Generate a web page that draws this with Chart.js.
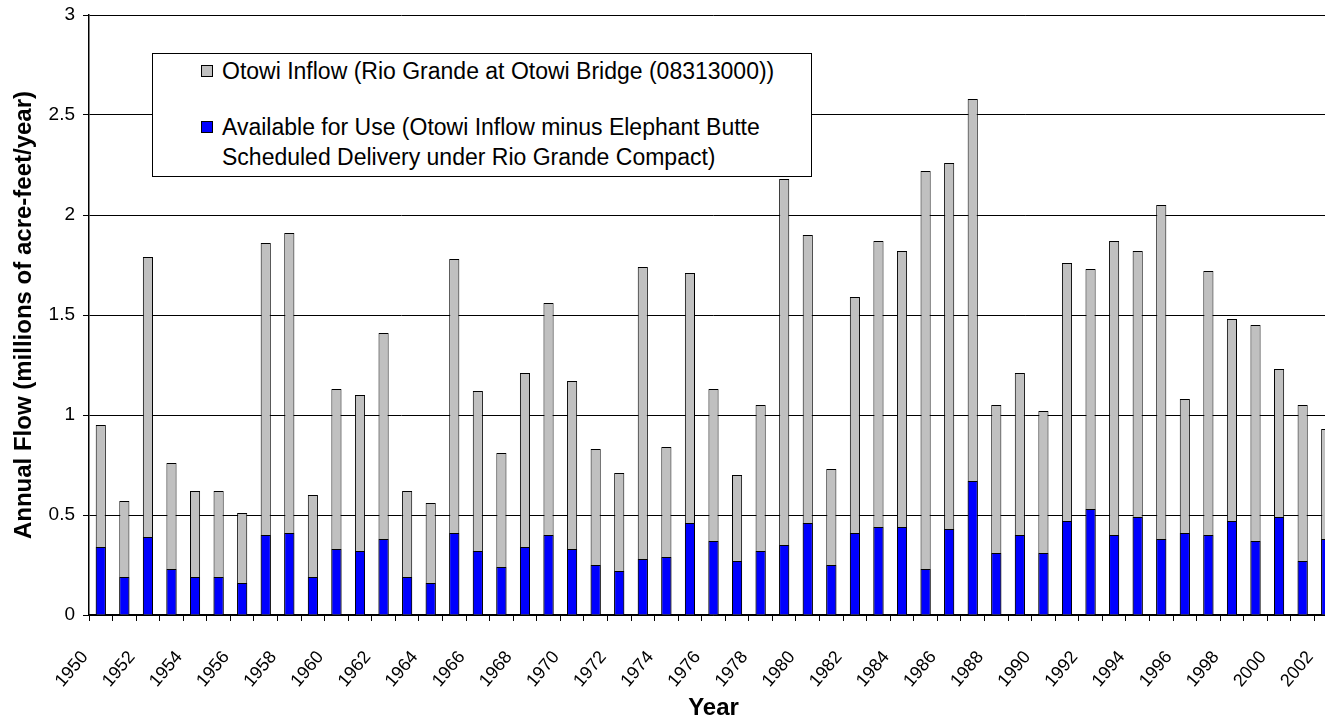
<!DOCTYPE html>
<html>
<head>
<meta charset="utf-8">
<title>Otowi Inflow and Water Available for Use</title>
<script src="https://cdn.jsdelivr.net/npm/chart.js@4.4.1/dist/chart.umd.min.js"></script>
<style>
	html, body { margin: 0; padding: 0; background: #fff; overflow: hidden; }
	#wrap { position: relative; width: 1325px; height: 718px; overflow: hidden; }
	#chart { position: absolute; left: 0; top: 0; }
	#legend {
		position: absolute; left: 152px; top: 53px; width: 658px; height: 122px;
		border: 1px solid #000; background: #fff;
		font-family: "Liberation Sans", Arial, sans-serif; font-size: 23px; color: #000;
	}
	.legend-item { position: absolute; left: 48px; display: flex; align-items: flex-start; }
	.legend-box { width: 10px; height: 10px; border: 1px solid #000; margin: 9px 9px 0 0; flex: none; }
	.legend-text { line-height: 30px; white-space: nowrap; }
</style>
</head>
<body>
<div id="wrap">
	<canvas id="chart" width="1340" height="718"></canvas>
	<div id="legend"></div>
</div>
<script>
const years = [
	1950, 1951, 1952, 1953, 1954, 1955, 1956, 1957, 1958, 1959,
	1960, 1961, 1962, 1963, 1964, 1965, 1966, 1967, 1968, 1969,
	1970, 1971, 1972, 1973, 1974, 1975, 1976, 1977, 1978, 1979,
	1980, 1981, 1982, 1983, 1984, 1985, 1986, 1987, 1988, 1989,
	1990, 1991, 1992, 1993, 1994, 1995, 1996, 1997, 1998, 1999,
	2000, 2001, 2002,
];
// millions of acre-feet/year
const otowiInflow = [
	0.95, 0.57, 1.79, 0.76, 0.62, 0.62, 0.51, 1.86, 1.91, 0.60,
	1.13, 1.10, 1.41, 0.62, 0.56, 1.78, 1.12, 0.81, 1.21, 1.56,
	1.17, 0.83, 0.71, 1.74, 0.84, 1.71, 1.13, 0.70, 1.05, 2.18,
	1.90, 0.73, 1.59, 1.87, 1.82, 2.22, 2.26, 2.58, 1.05, 1.21,
	1.02, 1.76, 1.73, 1.87, 1.82, 2.05, 1.08, 1.72, 1.48, 1.45,
	1.23, 1.05, 0.93,
];
const availableForUse = [
	0.34, 0.19, 0.39, 0.23, 0.19, 0.19, 0.16, 0.40, 0.41, 0.19,
	0.33, 0.32, 0.38, 0.19, 0.16, 0.41, 0.32, 0.24, 0.34, 0.40,
	0.33, 0.25, 0.22, 0.28, 0.29, 0.46, 0.37, 0.27, 0.32, 0.35,
	0.46, 0.25, 0.41, 0.44, 0.44, 0.23, 0.43, 0.67, 0.31, 0.40,
	0.31, 0.47, 0.53, 0.40, 0.49, 0.38, 0.41, 0.40, 0.47, 0.37,
	0.49, 0.27, 0.38,
];
const legendLines = [
	["Otowi Inflow (Rio Grande at Otowi Bridge (08313000))"],
	["Available for Use (Otowi Inflow minus Elephant Butte", "Scheduled Delivery under Rio Grande Compact)"],
];
const legendTops = [2, 58];

const FONT = '"Liberation Sans", Arial, sans-serif';

const chart = new Chart(document.getElementById("chart"), {
	type: "bar",
	data: {
		labels: years,
		datasets: [
			{
				label: legendLines[0].join(" "),
				data: otowiInflow,
				backgroundColor: "#c0c0c0",
				borderColor: "#000",
				borderWidth: 1,
				order: 1,
			},
			{
				label: legendLines[1].join(" "),
				data: availableForUse,
				backgroundColor: "#0000ff",
				borderColor: "#000",
				borderWidth: 1,
				order: 0,
			},
		],
	},
	options: {
		responsive: false,
		animation: false,
		devicePixelRatio: 1,
		layout: { padding: { left: 0, top: 15, right: 2, bottom: 0 } },
		datasets: {
			bar: { grouped: false, barPercentage: 0.43, categoryPercentage: 1 },
		},
		plugins: {
			legend: { display: false },
			tooltip: { enabled: false },
		},
		scales: {
			x: {
				offset: true,
				grid: { offset: true, drawOnChartArea: false, tickLength: 6, color: "#000" },
				border: { color: "#000", width: 1.5 },
				ticks: {
					autoSkip: false,
					minRotation: 50,
					maxRotation: 50,
					padding: 26,
					labelOffset: -16,
					color: "#000",
					font: { family: FONT, size: 18 },
					callback: (v, i) => (i % 2 === 0 ? years[i] : ""),
				},
				title: {
					display: true,
					text: "Year",
					color: "#000",
					font: { family: FONT, size: 24, weight: "bold", lineHeight: 0.8 },
					padding: 0,
				},
				afterFit: (s) => {
					s.height = 103;
					s.paddingLeft = 0;
					s.paddingRight = 0;
				},
			},
			y: {
				min: 0,
				max: 3,
				ticks: {
					stepSize: 0.5,
					padding: 8,
					color: "#000",
					font: { family: FONT, size: 19 },
					callback: (v) => String(+v.toFixed(1)),
				},
				grid: { color: "#000", tickLength: 6 },
				border: { color: "#000", width: 1.5 },
				title: {
					display: true,
					text: "Annual Flow (millions of acre-feet/year)",
					color: "#000",
					font: { family: FONT, size: 24, weight: "bold", lineHeight: 1.2 },
					padding: { top: 10, bottom: 0 },
				},
				afterFit: (s) => {
					s.width = 89;
					s.paddingTop = 0;
					s.paddingBottom = 0;
				},
			},
		},
	},
});

// legend box, built from the datasets
const legend = document.getElementById("legend");
chart.data.datasets.forEach((ds, i) => {
	const item = document.createElement("div");
	item.className = "legend-item";
	item.style.top = legendTops[i] + "px";
	const box = document.createElement("span");
	box.className = "legend-box";
	box.style.background = ds.backgroundColor;
	const text = document.createElement("div");
	text.className = "legend-text";
	text.innerHTML = legendLines[i].join("<br>");
	item.appendChild(box);
	item.appendChild(text);
	legend.appendChild(item);
});
</script>
</body>
</html>
